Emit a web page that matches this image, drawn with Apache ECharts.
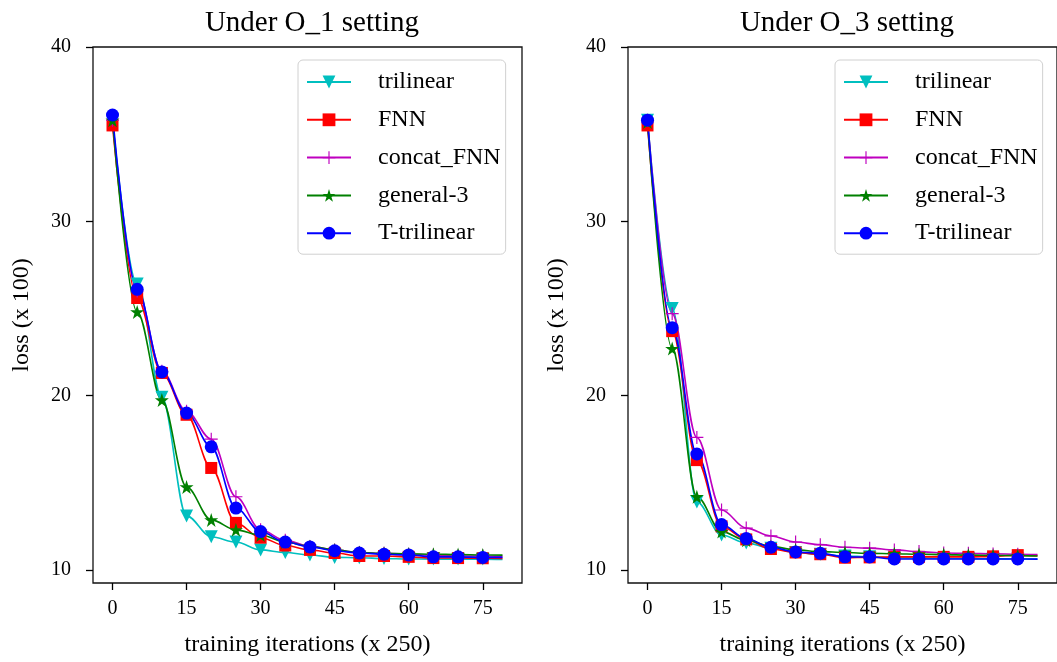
<!DOCTYPE html>
<html>
<head>
<meta charset="utf-8">
<script src="https://cdn.jsdelivr.net/npm/echarts@6/dist/echarts.min.js"></script>
<style>
html,body{margin:0;padding:0;background:#fff;}
#chart{width:1057px;height:662px;}
</style>
</head>
<body>
<div id="chart"></div>
<script>
// x positions of the recorded points (last one = end of line, no marker)
var iters = [0, 5, 10, 15, 20, 25, 30, 35, 40, 45, 50, 55, 60, 65, 70, 75, 79];
var xTicks = [0, 15, 30, 45, 60, 75];
var yTicks = [10, 20, 30, 40];
var names = ['trilinear', 'FNN', 'concat_FNN', 'general-3', 'T-trilinear'];

// Under O_1 setting
var trilinear1 = [35.8, 26.4, 19.9, 13.1, 11.9, 11.6, 11.15, 11.0, 10.86, 10.72, 10.7, 10.65, 10.63, 10.62, 10.62, 10.62, 10.6];
var fnn1 = [35.5, 25.6, 21.3, 18.9, 15.85, 12.7, 11.85, 11.4, 11.15, 10.97, 10.8, 10.8, 10.75, 10.68, 10.68, 10.67, 10.66];
var concat1 = [35.8, 26.0, 21.4, 19.1, 17.5, 14.2, 12.3, 11.7, 11.35, 11.15, 11.0, 10.95, 10.9, 10.85, 10.8, 10.8, 10.78];
var general1 = [35.8, 24.8, 19.75, 14.76, 12.87, 12.3, 12.0, 11.6, 11.35, 11.15, 11.0, 10.95, 10.92, 10.9, 10.88, 10.86, 10.85];
var tTri1 = [36.1, 26.1, 21.36, 19.0, 17.06, 13.55, 12.2, 11.6, 11.32, 11.1, 10.97, 10.9, 10.86, 10.75, 10.75, 10.72, 10.72];

// Under O_3 setting
var trilinear3 = [35.8, 25.0, 13.9, 12.0, 11.55, 11.25, 11.0, 10.9, 10.8, 10.75, 10.7, 10.68, 10.66, 10.65, 10.64, 10.63, 10.62];
var fnn3 = [35.5, 23.7, 16.3, 12.5, 11.75, 11.2, 11.0, 10.9, 10.7, 10.72, 10.75, 10.75, 10.75, 10.75, 10.78, 10.85, 10.82];
var concat3 = [35.8, 24.7, 17.6, 13.44, 12.4, 11.95, 11.6, 11.45, 11.3, 11.25, 11.15, 11.05, 10.97, 10.95, 10.92, 10.9, 10.88];
var general3 = [35.7, 22.7, 14.2, 12.2, 11.7, 11.35, 11.15, 11.05, 11.0, 10.95, 10.93, 10.9, 10.88, 10.85, 10.83, 10.82, 10.8];
var tTri3 = [35.8, 23.9, 16.65, 12.6, 11.8, 11.3, 11.03, 10.95, 10.75, 10.74, 10.63, 10.63, 10.63, 10.63, 10.63, 10.63, 10.62];

var serif = 'Liberation Serif';
var starPath = 'path://M0,-1L0.2245,-0.309L0.951,-0.309L0.363,0.118L0.588,0.809L0,0.382L-0.588,0.809L-0.363,0.118L-0.951,-0.309L-0.2245,-0.309Z';
var plusPath = 'path://M-0.09,-1H0.09V-0.09H1V0.09H0.09V1H-0.09V0.09H-1V-0.09H-0.09Z';

var styles = {
    'trilinear':   {color: '#00bfbf', symbol: 'triangle', size: 13, rotate: 180},
    'FNN':         {color: '#ff0000', symbol: 'rect', size: 12, rotate: 0},
    'concat_FNN':  {color: '#bf00bf', symbol: plusPath, size: 13, rotate: 0},
    'general-3':   {color: '#008000', symbol: starPath, size: 14, rotate: 0},
    'T-trilinear': {color: '#0000ff', symbol: 'circle', size: 13, rotate: 0}
};

function mk(name, ys, idx) {
    var s = styles[name];
    var data = ys.map(function (v, i) {
        if (i == ys.length - 1) {
            return {value: [iters[i], v], symbol: 'none'};
        }
        return [iters[i], v];
    });
    return {
        name: name,
        type: 'line',
        xAxisIndex: idx,
        yAxisIndex: idx,
        data: data,
        smooth: 0.35,
        smoothMonotone: 'x',
        symbol: s.symbol,
        symbolSize: s.size,
        symbolRotate: s.rotate,
        showAllSymbol: true,
        lineStyle: {color: s.color, width: 1.6},
        itemStyle: {color: s.color},
        emphasis: {disabled: true},
        animation: false
    };
}

function xAx(idx) {
    return {
        type: 'value',
        gridIndex: idx,
        min: -3.95,
        max: 82.95,
        name: 'training iterations (x 250)',
        nameLocation: 'middle',
        nameGap: 50,
        nameTextStyle: {fontFamily: serif, fontSize: 24, color: '#000'},
        axisLine: {show: false, onZero: false},
        axisTick: {show: true, length: 7, inside: false, customValues: xTicks, lineStyle: {color: '#000', width: 1.3}},
        axisLabel: {customValues: xTicks, margin: 16, fontFamily: serif, fontSize: 20, color: '#000'},
        splitLine: {show: false}
    };
}

function yAx(idx) {
    return {
        type: 'value',
        gridIndex: idx,
        min: 9.25,
        max: 40,
        name: 'loss (x 100)',
        nameLocation: 'middle',
        nameGap: 59,
        nameTextStyle: {fontFamily: serif, fontSize: 24, color: '#000'},
        axisLine: {show: false, onZero: false},
        axisTick: {show: true, length: 7, inside: false, customValues: yTicks, lineStyle: {color: '#000', width: 1.3}},
        axisLabel: {customValues: yTicks, margin: 22, fontFamily: serif, fontSize: 20, color: '#000'},
        splitLine: {show: false}
    };
}

function leg(left) {
    return {
        orient: 'vertical',
        left: left,
        top: 60,
        data: names,
        itemWidth: 44,
        itemHeight: 16,
        itemGap: 13.8,
        padding: [10, 5, 9, 8],
        borderColor: '#d0d0d0',
        borderWidth: 1,
        borderRadius: 5,
        backgroundColor: '#fff',
        selectedMode: false,
        textStyle: {fontFamily: serif, fontSize: 24, color: '#000', padding: [0, 0, 0, 22]}
    };
}

var series = [
    mk('trilinear', trilinear1, 0),
    mk('FNN', fnn1, 0),
    mk('concat_FNN', concat1, 0),
    mk('general-3', general1, 0),
    mk('T-trilinear', tTri1, 0),
    mk('trilinear', trilinear3, 1),
    mk('FNN', fnn3, 1),
    mk('concat_FNN', concat3, 1),
    mk('general-3', general3, 1),
    mk('T-trilinear', tTri3, 1)
];

var myChart = echarts.init(document.getElementById('chart'));
var option = {
    backgroundColor: '#fff',
    animation: false,
    title: [
        {text: 'Under O_1 setting', left: 307, top: 4, textAlign: 'center',
         textStyle: {fontFamily: serif, fontSize: 29, fontWeight: 'normal', color: '#000'}},
        {text: 'Under O_3 setting', left: 842, top: 4, textAlign: 'center',
         textStyle: {fontFamily: serif, fontSize: 29, fontWeight: 'normal', color: '#000'}}
    ],
    grid: [
        {left: 93, top: 47, width: 429, height: 536, show: true, borderColor: '#111', borderWidth: 1.3, backgroundColor: 'transparent'},
        {left: 628, top: 47, width: 431, height: 536, show: true, borderColor: '#111', borderWidth: 1.3, backgroundColor: 'transparent'}
    ],
    legend: [leg(298), leg(835)],
    xAxis: [xAx(0), xAx(1)],
    yAxis: [yAx(0), yAx(1)],
    series: series
};
myChart.setOption(option, true);
</script>
</body>
</html>
